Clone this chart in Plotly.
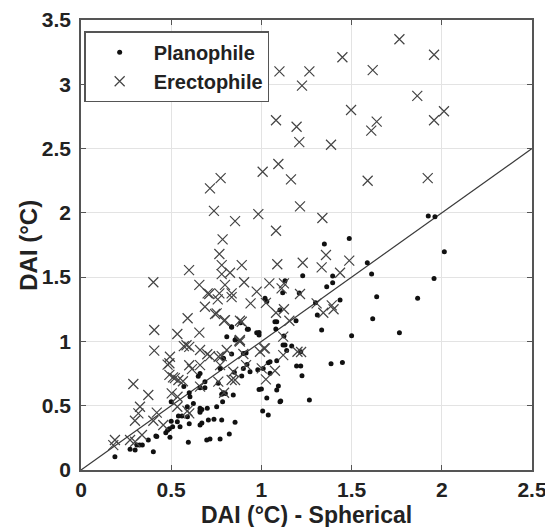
import plotly.graph_objects as go

# Planophile (dots)
plano_x = [1.925,1.962,2.014,1.587,1.611,1.957,1.639,1.866,1.617,1.765,1.349,1.487,
           1.229,1.395,1.395,1.362,1.131,1.118,1.21,1.02,1.03,1.103,1.436,
           1.30,1.31,1.085,1.192,1.08,1.334,1.5,1.125,1.131,1.168,1.14,1.218,1.195,1.218,1.225,1.386,1.449,1.107,1.266,
           0.835,0.922,0.808,0.859,0.974,0.885,0.915,0.79,
           0.835,0.771,0.92,0.85,0.937,0.891,0.761,0.78,0.79,0.80,0.844,0.785,0.752,0.70,0.66,0.987,1.01,1.048,1.038,1.085,1.12,1.094,1.085,1.103,1.007,1.038,0.737,0.78,0.854,0.822,0.715,0.771,
           0.188,0.272,0.30,0.31,0.325,0.34,0.401,0.373,0.415,0.42,0.493,0.47,0.48,0.49,0.508,0.534,0.549,0.595,0.50,0.54,0.56,0.59,0.589,0.604,0.623,0.66,0.66,0.67,0.706,0.60,0.697,0.66,0.687,0.57,0.60,0.50,0.66,0.67,0.65,0.66,0.687,
           0.835,0.928,0.987,0.987,0.854,0.9,1.075,1.048,0.98,0.9,1.03,1.0]
plano_y = [1.975,1.97,1.698,1.612,1.524,1.49,1.348,1.335,1.176,1.068,1.757,1.80,
           1.511,1.509,1.457,1.425,1.472,1.379,1.376,1.335,1.31,1.244,1.322,
           1.30,1.205,1.153,1.161,1.096,1.089,1.044,1.042,0.972,0.964,0.93,0.92,0.809,0.809,0.733,0.827,0.837,0.537,0.544,
           1.11,1.094,1.037,1.016,1.068,1.145,0.91,0.87,
           0.902,0.79,0.82,0.76,0.764,0.731,0.674,0.59,0.60,0.595,0.583,0.531,0.492,0.48,0.45,0.627,0.79,0.752,0.834,0.85,0.972,0.653,0.622,0.531,0.459,0.428,0.394,0.389,0.371,0.28,0.241,0.241,
           0.103,0.161,0.156,0.194,0.194,0.194,0.142,0.233,0.264,0.26,0.254,0.29,0.31,0.32,0.337,0.376,0.337,0.215,0.38,0.42,0.42,0.415,0.492,0.57,0.518,0.46,0.35,0.365,0.389,0.36,0.233,0.64,0.64,0.65,0.60,0.53,0.48,0.47,0.73,0.75,0.687,
           1.114,1.094,1.05,1.07,1.011,0.907,1.153,0.842,0.78,0.79,0.56,0.63]

# Erectophile (crosses)
erect_x = [1.765,1.957,1.449,1.617,1.266,1.10,1.225,1.864,1.497,2.012,1.639,1.957,1.609,1.081,1.195,1.21,1.386,1.094,1.007,1.164,1.589,1.922,0.774,0.715,1.214,1.338,0.737,0.983,0.854,1.081,0.785,0.767,
           0.78,0.891,0.599,0.78,0.826,0.401,0.656,0.798,0.904,0.702,0.767,0.835,0.974,0.758,0.835,0.94,0.687,0.752,0.591,0.798,0.891,0.406,0.534,0.656,0.881,0.406,0.493,0.57,0.585,0.60,0.66,0.715,0.808,0.763,
           1.358,1.088,1.229,1.334,1.487,1.436,1.044,1.125,1.112,1.214,1.025,1.081,1.125,1.306,1.343,1.39,1.40,1.155,1.121,1.014,1.121,1.20,1.22,
           0.881,0.78,0.9,0.992,1.02,0.915,0.844,0.771,1.002,1.075,1.025,0.835,0.854,0.761,0.66,0.793,
           0.29,0.373,0.327,0.318,0.299,0.401,0.42,0.456,0.503,0.535,0.49,0.51,0.54,0.565,0.48,0.49,0.6,0.615,0.66,0.534,0.59,0.6,0.338,0.272,0.188,0.179,0.30,
           0.711,0.743,0.793,0.881,0.878,0.70,0.52]
erect_y = [3.35,3.23,3.21,3.11,3.10,3.10,2.99,2.91,2.80,2.79,2.71,2.72,2.64,2.72,2.67,2.55,2.53,2.38,2.32,2.26,2.25,2.27,2.27,2.19,2.05,1.96,2.016,1.99,1.936,1.861,1.794,1.68,
           1.594,1.594,1.555,1.524,1.534,1.46,1.44,1.44,1.46,1.374,1.374,1.374,1.387,1.327,1.345,1.296,1.27,1.218,1.18,1.166,1.153,1.089,1.058,1.068,1.011,0.928,0.881,0.964,0.97,0.958,0.933,0.886,0.933,0.881,
           1.672,1.60,1.612,1.576,1.628,1.534,1.452,1.452,1.413,1.369,1.30,1.223,1.25,1.296,1.223,1.28,1.25,1.161,1.037,0.946,0.894,0.92,0.918,
           0.998,0.886,0.902,0.92,0.946,0.816,0.764,0.816,0.79,0.772,0.705,0.70,0.70,0.687,0.648,0.601,
           0.669,0.583,0.492,0.44,0.383,0.383,0.446,0.35,0.596,0.57,0.74,0.72,0.70,0.69,0.82,0.83,0.815,0.785,0.816,0.492,0.46,0.44,0.272,0.233,0.233,0.194,0.22,
           1.369,1.213,1.161,1.161,1.005,0.90,0.715]

line_x = [0, 2.5]
line_y = [0, 2.5]

x_ticks = [0, 0.5, 1, 1.5, 2, 2.5]
y_ticks = [0, 0.5, 1, 1.5, 2, 2.5, 3, 3.5]

FONT = "Liberation Sans, Arial"
TXT = "#222222"

fig = go.Figure()
fig.add_trace(go.Scatter(x=line_x, y=line_y, mode="lines",
                         line=dict(color="#3a3a3a", width=1.2), showlegend=False, hoverinfo="skip"))
fig.add_trace(go.Scatter(x=plano_x, y=plano_y, mode="markers", name="<b>Planophile</b>",
                         marker=dict(symbol="circle", size=5, color="#111111")))
fig.add_trace(go.Scatter(x=erect_x, y=erect_y, mode="markers", name="<b>Erectophile</b>",
                         marker=dict(symbol="x-thin-open", size=10, color="#444444",
                                     line=dict(width=1.2, color="#444444"))))

axis_common = dict(showgrid=True, gridcolor="#e3e3e3", gridwidth=1,
                   showline=True, linecolor="#555555", linewidth=1.5, mirror="ticks",
                   ticks="inside", ticklen=5, tickcolor="#555555", zeroline=False,
                   automargin=False,
                   tickfont=dict(family=FONT, size=21, color=TXT))

fig.update_xaxes(range=[0, 2.5], tickvals=x_ticks, ticktext=[f"<b>{v:g}</b>" for v in x_ticks],
                 ticklabelstandoff=0, **axis_common)
fig.update_yaxes(range=[0, 3.5], tickvals=y_ticks, ticktext=[f"<b>{v:g}</b>" for v in y_ticks],
                 ticklabelstandoff=4, **axis_common)

# Plot area (inside the page's 8px body margin): x 81..532, y 20..470
fig.add_annotation(text="<b>DAI (°C) - Spherical</b>", xref="paper", yref="paper",
                   x=0.5, y=-0.1, xanchor="center", yanchor="middle", showarrow=False,
                   font=dict(family=FONT, size=23, color=TXT))
fig.add_annotation(text="<b>DAI (°C)</b>", xref="paper", yref="paper",
                   x=-0.118, y=0.5, xanchor="center", yanchor="middle", textangle=-90,
                   showarrow=False, font=dict(family=FONT, size=24, color=TXT))

fig.update_layout(
    width=545, height=519,
    margin=dict(l=73, r=21, t=12, b=57, autoexpand=False),
    paper_bgcolor="white", plot_bgcolor="white",
    legend=dict(x=0.007, y=0.975, xanchor="left", yanchor="top",
                bgcolor="white", bordercolor="#555555", borderwidth=1.5,
                font=dict(family=FONT, size=20, color=TXT),
                itemwidth=58, tracegroupgap=0),
)

fig.write_html("out.html")
